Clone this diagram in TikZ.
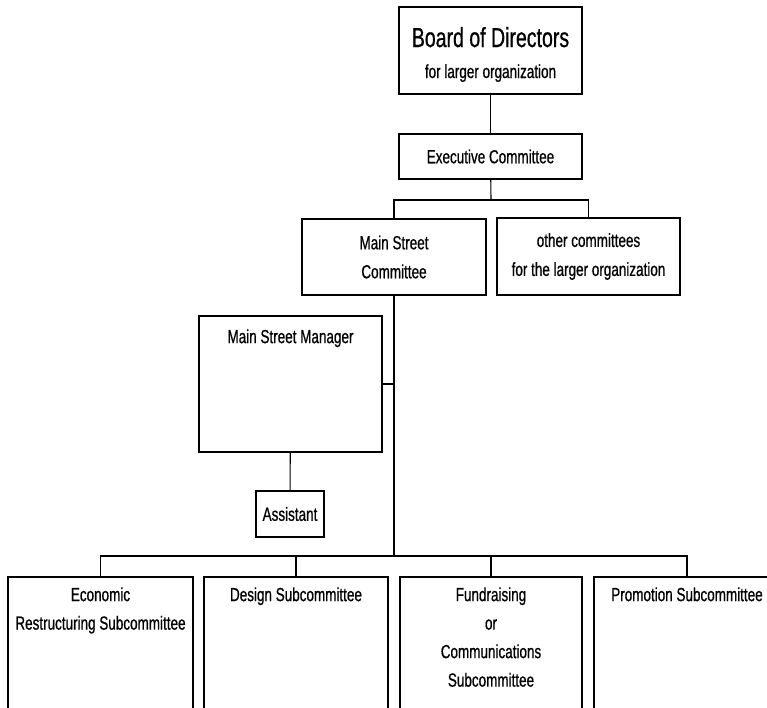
\documentclass[tikz,border=0pt]{standalone}
\usepackage{fontspec}
\setmainfont[FakeStretch=0.71, FakeBold=0.7]{Liberation Sans}
\usepackage{tikz}
\usetikzlibrary{positioning}

\begin{document}
\begin{tikzpicture}[
  x=1pt, y=-1pt,
  box/.style={draw, line width=1.7pt, inner sep=0pt, align=center,
              font=\fontsize{19}{29}\selectfont},
  toptext/.style={inner sep=0pt, align=center, anchor=north,
                  font=\fontsize{19}{28.5}\selectfont},
  link/.style={line width=1.1pt}
]
\useasboundingbox (0,0) rectangle (767,708);
\clip (0,0) rectangle (767,708);

% top of the chart
\node[box, minimum width=183pt, minimum height=87pt,
      font=\fontsize{19}{31}\selectfont] (board) at (490.5,50.5)
  {\rule{0pt}{28pt}{\fontsize{27.5}{31}\selectfont Board of Directors}\\
   for larger organization};
\node[box, minimum width=183pt, minimum height=45pt] (exec) at (490.5,156.5)
  {Executive Committee};
\node[box, minimum width=184pt, minimum height=76pt] (msc) at (394,257)
  {Main Street\\Committee};
\node[box, minimum width=183pt, minimum height=77pt] (other) at (588.5,256.5)
  {other committees\\for the larger organization};

% staff
\node[box, minimum width=183pt, minimum height=136pt,
      label={[toptext, yshift=-14pt]north:Main Street Manager}] (mgr) at (290.5,384) {};
\node[box, minimum width=68pt, minimum height=46pt] (asst) at (290,514)
  {Assistant};

% subcommittees (run off the page)
\node[box, minimum width=185pt, minimum height=160pt,
      label={[toptext, yshift=-11pt]north:Economic\\Restructuring Subcommittee}] (econ) at (100.5,657) {};
\node[box, minimum width=184pt, minimum height=160pt,
      label={[toptext, yshift=-11pt]north:Design Subcommittee}] (design) at (296,657) {};
\node[box, minimum width=182pt, minimum height=160pt,
      label={[toptext, yshift=-11pt]north:Fundraising\\or\\Communications\\Subcommittee}] (fund) at (491,657) {};
\node[box, minimum width=186pt, minimum height=160pt,
      label={[toptext, yshift=-11pt]north:Promotion Subcommittee}] (promo) at (687,657) {};

\coordinate (split) at (491,200);
\coordinate (hub) at (394,556);

\draw[link] (board) -- (exec);
\draw[link] (exec) -- (split);
\draw[link] (split) -| (msc);
\draw[link] (split) -| (other);
\draw[link] (msc) -- (hub);
\draw[link] (mgr.east) -- (mgr.east -| hub);
\draw[link] (mgr) -- (asst);
\draw[link] (hub) -| (econ);
\draw[link] (hub) -| (design);
\draw[link] (hub) -| (fund);
\draw[link] (hub) -| (promo);

\end{tikzpicture}
\end{document}
